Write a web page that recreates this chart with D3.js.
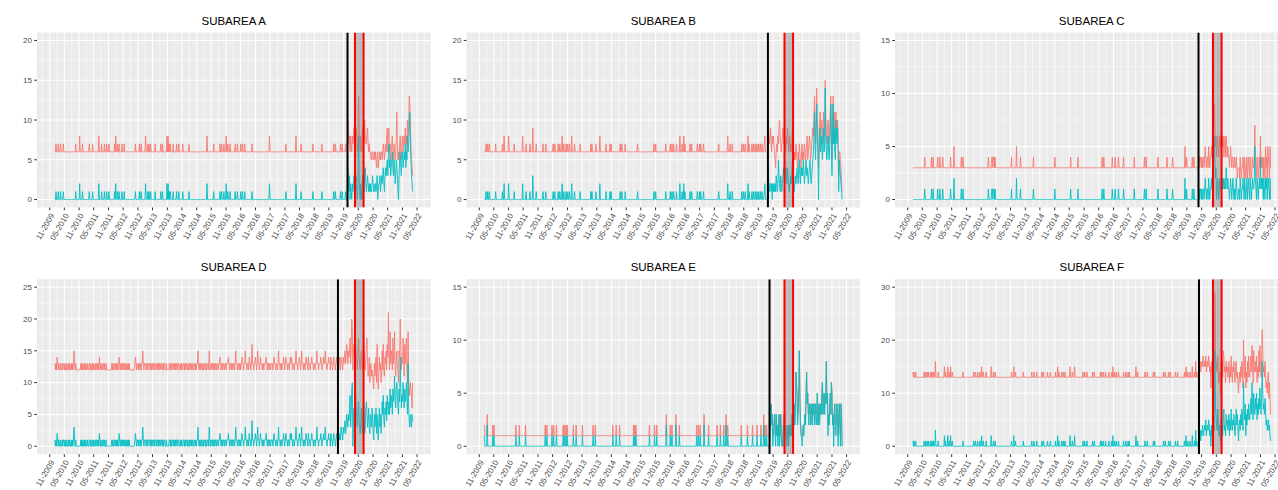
<!DOCTYPE html>
<html lang="en">
<head>
<meta charset="utf-8">
<title>Subareas</title>
<script src="https://cdnjs.cloudflare.com/ajax/libs/d3/7.8.5/d3.min.js"></script>
<style>
  body { margin: 0; background: #fff; }
  svg { display: block; font-family: "Liberation Sans", Arial, sans-serif; }
  .title { font-size: 11.5px; fill: #000; }
  .tick-label { font-size: 8px; fill: #4d4d4d; }
</style>
</head>
<body>
<div id="chart"></div>
<script>
// weekly counts, first week starting 2010-01-04
var firstWeek = "2010-01-04";
var nWeeks = 636;

var subareas = ["SUBAREA A", "SUBAREA B", "SUBAREA C", "SUBAREA D", "SUBAREA E", "SUBAREA F"];
var yMax = [20, 20, 15, 25, 15, 30];
var yTicks = [[0, 5, 10, 15, 20], [0, 5, 10, 15, 20], [0, 5, 10, 15], [0, 5, 10, 15, 20, 25], [0, 5, 10, 15], [0, 10, 20, 30]];

// black line (start of change) per subarea, and the shaded period
var changeDates = ["2019-12-19", "2019-08-28", "2019-09-23", "2019-08-22", "2019-09-17", "2019-09-29"];
var shadeStart = "2020-03-21";
var shadeEnd = "2020-07-06";

// weeks before the change: flat level + spikes ("week:value"), after: one char per week (base 36)
var preWeeks = [520, 504, 507, 503, 507, 508];
var tealBase = [0, 0, 0, 0, 0, 0];
var redBase = [6, 6, 3, 12, 1, 13];

var tealA_spikes = "2:1 6:1 10:1 15:1 37:1 44:2 49:1 61:1 67:1 78:2 83:1 88:1 92:1 96:1 106:1 108:2 111:1 114:1 119:1 123:1 143:1 150:1 153:1 161:2 165:1 167:1 170:1 178:1 188:1 191:1 199:2 201:2 203:1 205:1 210:1 216:1 220:1 227:1 238:1 270:2 282:1 293:1 296:1 300:1 304:2 307:1 311:1 320:1 324:1 330:1 333:1 337:1 350:1 381:2 410:1 428:2 437:1 458:1 474:1 495:1 498:1 507:1 510:1 516:1";
var redA_spikes = "2:7 6:7 10:7 15:7 37:7 44:8 49:7 61:7 67:7 78:8 83:7 88:7 92:7 96:7 106:7 108:8 111:7 114:7 119:7 123:7 143:7 150:7 153:7 161:8 165:7 167:7 170:7 178:7 188:7 191:7 199:8 201:8 203:7 205:7 210:7 216:7 220:7 227:7 238:7 270:8 282:7 293:7 296:7 300:7 304:8 307:7 311:7 320:7 324:7 330:7 333:7 337:7 350:7 381:8 410:7 428:8 437:7 458:7 474:7 495:7 498:7 507:7 510:7 516:7";
var tealA_post = "4213021021" + "2301231028" + "3102103021" + "3421232121" + "2112321122" + "1230122312" +
  "3234213434" + "5367453456" + "4354235431" + "0356435645" + "6574658679" + "b75321";
var redA_post = "a978687687" + "896789768d" + "9768769878" + "a877897676" + "6556655656" + "5456455656" +
  "6567656768" + "9689675678" + "6576568b75" + "6578657867" + "879687a89d" + "c97543";

var tealB_spikes = "3:1 6:1 9:1 20:1 32:1 35:2 43:2 53:1 68:2 74:1 81:1 86:3 92:1 104:1 109:1 122:1 125:1 131:1 134:1 138:2 141:1 145:1 148:1 151:1 155:2 160:1 170:1 189:1 191:1 198:1 205:2 216:1 223:1 225:1 241:1 244:1 250:1 272:1 301:1 304:1 322:1 330:1 333:1 336:1 341:1 347:2 351:1 354:2 356:1 365:1 368:1 378:1 382:1 384:1 389:1 416:1 432:2 436:1 440:1 457:1 460:1 463:1 468:2 470:1 475:1 478:1 481:1 484:1 487:1 490:1 493:1 497:1 498:2";
var redB_spikes = "3:7 6:7 9:7 20:7 32:7 35:8 43:8 53:7 68:8 74:7 81:7 86:9 92:7 104:7 109:7 122:7 125:7 131:7 134:7 138:8 141:7 145:7 148:7 151:7 155:8 160:7 170:7 189:7 191:7 198:7 205:8 216:7 223:7 225:7 241:7 244:7 250:7 272:7 301:7 304:7 322:7 330:7 333:7 336:7 341:7 347:8 351:7 354:8 356:7 365:7 368:7 378:7 382:7 384:7 389:7 416:7 432:8 436:7 440:7 457:7 460:7 463:7 468:8 470:7 475:7 478:7 481:7 484:7 487:7 490:7 493:7 497:7 498:8";
var tealB_post = "4212212021" + "2121321253" + "2132123432" + "3432432122" + "3245321232" + "3432453243" + "4354234534" +
  "3234532345" + "68b759c860" + "5896785796" + "7e86578657" + "9c638c7965" + "a879615432" + "10";
var redB_post = "a878976878" + "7654676879" + "a876789878" + "7687986786" + "7689865657" + "6546576546" + "7565765678" +
  "5678756789" + "8ad97bea84" + "7ab89a79b8" + "9fa879a879" + "bd85ad9b87" + "b98a736654" + "21";

var tealC_spikes = "21:1 33:1 36:1 44:1 48:1 53:1 67:1 73:2 86:1 89:1 134:1 140:1 141:1 143:1 144:1 146:1 175:1 184:2 191:1 214:1 252:1 280:1 293:1 336:1 339:1 354:1 359:1 365:1 374:1 393:1 411:1 414:1 435:1 451:1 461:1 483:2 486:1 496:1 499:1";
var redC_spikes = "21:4 33:4 36:4 44:4 48:4 53:4 67:4 73:5 86:4 89:4 134:4 140:4 141:4 143:4 144:4 146:4 175:4 184:5 191:4 214:4 252:4 280:4 293:4 336:4 339:4 354:4 359:4 365:4 374:4 393:4 411:4 414:4 435:4 451:4 461:4 483:5 486:4 496:4 499:4";
var tealC_post = "0101101011" + "0121011021" + "0112132564" + "2301210121" + "1121211213" + "2121101210" + "1210101210" +
  "0110210112" + "1021012012" + "1021012112" + "5210210121" + "4121202102" + "120221020";
var redC_post = "3434434344" + "3454344354" + "3445465797" + "5645654565" + "6665645646" + "5454434543" + "4433433432" +
  "3332432334" + "3243234234" + "3243234334" + "7432432343" + "6343424325" + "342543253";

var tealD_pre = "1010210100" + "1001011010" + "0100101001" + "0101310100" + "0000001010" +
  "1001010010" + "0110100101" + "0010110102" + "1010011010" + "0100000000" +
  "0101001101" + "0100210110" + "1011010010" + "1010000000" + "0012101101" +
  "1010113101" + "1101101110" + "1011011011" + "0110101101" + "1010110010" +
  "0001101011" + "0110101101" + "1001010011" + "0101101001" + "0110100110" +
  "1011310101" + "1001011010" + "0110310110" + "1101011011" + "0112101101" +
  "1011011121" + "0110110110" + "1311011011" + "0121101131" + "1011021101" +
  "4110112101" + "3110121101" + "1011121011" + "0110111012" + "1101101311" +
  "0110112101" + "2110110121" + "2101101131" + "1011210131" + "1011012110" +
  "2110112110" + "1101131101" + "1121011211" + "3110112110" + "2110121101" + "211";
var redD_pre = "dcdcedcdcc" + "dccdcddcdc" + "cdccdcdccd" + "cdcdfdcdcc" + "ccccccdcdc" +
  "dccdcdccdc" + "cddcdccdcd" + "ccdcddcdce" + "dcdccddcdc" + "cdcccccccc" +
  "cdcdccddcd" + "cdccedcddc" + "dcddcdccdc" + "dcdccccccc" + "ccdedcddcd" +
  "dcdcddfdcd" + "ddcddcdddc" + "dcddcddcdd" + "cddcdcddcd" + "dcdcddccdc" +
  "cccddcdcdd" + "cddcdcddcd" + "dccdcdccdd" + "cdcddcdccd" + "cddcdccddc" +
  "dcddfdcdcd" + "dccdcddcdc" + "cddcfdcddc" + "ddcdcddcdd" + "cddedcddcd" +
  "dcddcddded" + "cddcddcddc" + "dfddcddcdd" + "cdeddcddfd" + "dcddceddcd" +
  "gddcddedcd" + "fddcdeddcd" + "dcdddedcdd" + "cddcdddcde" + "ddcddcdfdd" +
  "cddcddedcd" + "eddcddcded" + "edcddcddfd" + "dcddedcdfd" + "dcddcdeddc" +
  "eddcddeddc" + "ddcddfddcd" + "ddedcddedd" + "fddcddeddc" + "eddcdeddcd" + "edd";
var tealD_post = "1212132213" + "2342354354" + "68359a0463" + "5864357432" + "4632574236" + "7534632543" + "6421534625" +
  "3146352475" + "8436574865" + "7596875978" + "b769a86597" + "e9687a8697" + "8a75d64354" + "354";
var redD_post = "dcedceddce" + "defdegfdfe" + "fhdfkicfgd" + "fgedcfhedc" + "efdcegfdce" + "ghdbceacdb" + "cba9dbceag" +
  "c9becdabfc" + "gcbedfcgel" + "fcidfechde" + "icbefdcafe" + "kgcedhfbgd" + "fhcaib98a9" + "86a";

var tealE_spikes = "0:1 5:2 15:1 17:1 56:1 62:1 73:1 108:1 111:1 120:1 123:1 128:1 140:1 142:1 145:1 147:1 158:1 163:1 174:1 193:1 197:1 228:1 234:1 240:1 265:1 267:1 269:1 293:1 302:1 306:1 323:2 330:1 333:1 340:2 346:1 377:1 380:1 383:1 390:2 398:1 413:1 419:1 425:1 429:2 432:1 456:1 467:1 476:1 484:1 491:1 496:2 498:1 501:1";
var redE_spikes = "0:2 5:3 15:2 17:2 56:2 62:2 73:2 108:2 111:2 120:2 123:2 128:2 140:2 142:2 145:2 147:2 158:2 163:2 174:2 193:2 197:2 228:2 234:2 240:2 265:2 267:2 269:2 293:2 302:2 306:2 323:3 330:2 333:2 340:3 346:2 377:2 380:2 383:2 390:3 398:2 413:2 419:2 425:2 429:3 432:2 456:2 467:2 476:2 484:2 491:2 496:3 498:2 501:2";
var tealE_post = "1242301231" + "0312013013" + "1001201121" + "0120121213" + "2134237652" + "3595211012" + "1232574532" +
  "4324324342" + "3423523423" + "4356345345" + "8451324536" + "5230342134" + "203420430";
var redE_post = "2243311232" + "1322113113" + "2101311221" + "1121122213" + "3234237653" + "3595221112" + "2232574533" +
  "4334324442" + "3433523433" + "4356345445" + "8452324536" + "5331342234" + "213421430";

var tealF_spikes = "0:1 2:1 5:1 20:1 23:1 26:1 28:1 32:1 34:1 37:1 40:3 45:1 56:2 58:1 62:2 65:1 67:2 70:1 89:1 108:1 111:1 115:1 119:1 122:2 125:1 130:1 139:2 143:1 146:1 175:1 179:2 182:1 196:1 211:1 215:1 220:1 229:1 232:1 239:1 244:1 253:1 257:2 259:1 264:1 267:1 270:1 279:2 283:1 287:2 302:1 305:1 309:1 319:1 322:1 333:1 335:1 338:1 342:1 348:1 353:1 355:2 358:1 361:1 365:1 374:1 378:1 382:1 384:1 396:2 399:1 412:1 416:1 427:1 429:1 445:1 448:1 454:1 457:1 466:1 470:1 482:1 485:2 488:1 492:1 496:2 500:1 502:3 504:1";
var redF_spikes = "0:14 2:14 5:14 20:14 23:14 26:14 28:14 32:14 34:14 37:14 40:16 45:14 56:15 58:14 62:15 65:14 67:15 70:14 89:14 108:14 111:14 115:14 119:14 122:15 125:14 130:14 139:15 143:14 146:14 175:14 179:15 182:14 196:14 211:14 215:14 220:14 229:14 232:14 239:14 244:14 253:14 257:15 259:14 264:14 267:14 270:14 279:15 283:14 287:15 302:14 305:14 309:14 319:14 322:14 333:14 335:14 338:14 342:14 348:14 353:14 355:15 358:14 361:14 365:14 374:14 378:14 382:14 384:14 396:15 399:14 412:14 416:14 427:14 429:14 445:14 448:14 454:14 457:14 466:14 470:14 482:14 485:15 488:14 492:14 496:15 500:14 502:16 504:14";
var tealF_post = "3231324323" + "4352343542" + "30423543i8" + "6437524315" + "3425734264" + "5346253743" + "5463257463" +
  "145364753c" + "7582647586" + "5796c85a76" + "97a58697b8" + "69ga786974" + "53453421";
var redF_post = "gfgefgfhgf" + "gfhefgfhge" + "fbgefhgfti" + "gfehfcedag" + "fgdihefcge" + "fdegcfdhec" + "fegdcfgdec" +
  "adecfdgebk" + "fdhbecgdhe" + "dfhejgcife" + "gehcfdiejf" + "dhmiefdgeb" + "cade9c96";

function fromChars(s) {
  return s.split("").map(function(c) { return parseInt(c, 36); });
}
function fromSpikes(n, base, s) {
  var a = [];
  for (var i = 0; i < n; i++) a.push(base);
  s.split(" ").forEach(function(t) {
    var p = t.split(":");
    a[+p[0]] = +p[1];
  });
  return a;
}

var teal = [
  fromSpikes(preWeeks[0], tealBase[0], tealA_spikes).concat(fromChars(tealA_post)),
  fromSpikes(preWeeks[1], tealBase[1], tealB_spikes).concat(fromChars(tealB_post)),
  fromSpikes(preWeeks[2], tealBase[2], tealC_spikes).concat(fromChars(tealC_post)),
  fromChars(tealD_pre).concat(fromChars(tealD_post)),
  fromSpikes(preWeeks[4], tealBase[4], tealE_spikes).concat(fromChars(tealE_post)),
  fromSpikes(preWeeks[5], tealBase[5], tealF_spikes).concat(fromChars(tealF_post))
];
var red = [
  fromSpikes(preWeeks[0], redBase[0], redA_spikes).concat(fromChars(redA_post)),
  fromSpikes(preWeeks[1], redBase[1], redB_spikes).concat(fromChars(redB_post)),
  fromSpikes(preWeeks[2], redBase[2], redC_spikes).concat(fromChars(redC_post)),
  fromChars(redD_pre).concat(fromChars(redD_post)),
  fromSpikes(preWeeks[4], redBase[4], redE_spikes).concat(fromChars(redE_post)),
  fromSpikes(preWeeks[5], redBase[5], redF_spikes).concat(fromChars(redF_post))
];

//layout
var width = 1278, height = 490;
var colOff = [0, 429.5, 858];
var rowOff = [0, 246.7];

var svg = d3.select("#chart").append("svg")
  .attr("width", width)
  .attr("height", height);

var parse = d3.utcParse("%Y-%m-%d");
var t0 = parse(firstWeek);
var dates = d3.range(nWeeks).map(function(i) { return d3.utcDay.offset(t0, 7 * i); });
var span = dates[nWeeks - 1] - dates[0];
var xDomain = [new Date(+dates[0] - 0.05 * span), new Date(+dates[nWeeks - 1] + 0.05 * span)];

var xTicks = d3.utcMonth.range(new Date(Date.UTC(2009, 10, 1)), new Date(Date.UTC(2022, 4, 2)), 6);
var xMinor = [];
for (var j = 0; j < xTicks.length; j++) {
  var a = +xTicks[j], b = j < xTicks.length - 1 ? +xTicks[j + 1] : a + (a - +xTicks[j - 1]);
  if (j == 0) xMinor.push(new Date(a - (+xTicks[1] - a) / 2));
  xMinor.push(new Date((a + b) / 2));
}
var fmt = d3.utcFormat("%m-%Y");

subareas.forEach(function(name, k) {
  var col = k % 3, row = Math.floor(k / 3);
  var L = colOff[col] + 37, R = colOff[col] + 430.5;
  var T = rowOff[row] + 32.5, B = rowOff[row] + 207.5;

  var x = d3.scaleUtc().domain(xDomain).range([L, R]);
  var ym = yMax[k];
  var y = d3.scaleLinear().domain([-0.05 * ym, 1.05 * ym]).range([B, T]);

  var g = svg.append("g");

  g.append("clipPath").attr("id", "clip" + k)
    .append("rect").attr("x", L).attr("y", T).attr("width", R - L).attr("height", B - T);

  g.append("rect")
    .attr("x", L).attr("y", T).attr("width", R - L).attr("height", B - T)
    .attr("fill", "#ebebeb");

  var grid = g.append("g").attr("clip-path", "url(#clip" + k + ")");

  //minor grid lines
  var yt = yTicks[k];
  var step = yt[1] - yt[0];
  var yMinor = yt.map(function(v) { return v + step / 2; }).filter(function(v) { return v < 1.05 * ym; });
  grid.selectAll(".ymin").data(yMinor).enter().append("line")
    .attr("x1", L).attr("x2", R)
    .attr("y1", function(d) { return y(d); }).attr("y2", function(d) { return y(d); })
    .attr("stroke", "#fff").attr("stroke-width", 0.5);
  grid.selectAll(".xmin").data(xMinor).enter().append("line")
    .attr("x1", function(d) { return x(d); }).attr("x2", function(d) { return x(d); })
    .attr("y1", T).attr("y2", B)
    .attr("stroke", "#fff").attr("stroke-width", 0.5);

  //major grid lines
  grid.selectAll(".ymaj").data(yt).enter().append("line")
    .attr("x1", L).attr("x2", R)
    .attr("y1", function(d) { return y(d); }).attr("y2", function(d) { return y(d); })
    .attr("stroke", "#fff").attr("stroke-width", 1);
  grid.selectAll(".xmaj").data(xTicks).enter().append("line")
    .attr("x1", function(d) { return x(d); }).attr("x2", function(d) { return x(d); })
    .attr("y1", T).attr("y2", B)
    .attr("stroke", "#fff").attr("stroke-width", 1);

  //series lines
  var line = d3.line()
    .x(function(d, i) { return x(dates[i]); })
    .y(function(d) { return y(d); });

  var plot = g.append("g").attr("clip-path", "url(#clip" + k + ")");
  plot.append("path")
    .attr("d", line(red[k]))
    .attr("fill", "none").attr("stroke", "#F8766D").attr("stroke-opacity", 0.85)
    .attr("stroke-width", 1).attr("stroke-linejoin", "round");
  plot.append("path")
    .attr("d", line(teal[k]))
    .attr("fill", "none").attr("stroke", "#00BFC4").attr("stroke-opacity", 0.9)
    .attr("stroke-width", 1).attr("stroke-linejoin", "round");

  //change line and shaded period
  var xc = x(parse(changeDates[k]));
  plot.append("line")
    .attr("x1", xc).attr("x2", xc).attr("y1", T).attr("y2", B)
    .attr("stroke", "#000").attr("stroke-width", 2);
  var xs = x(parse(shadeStart)), xe = x(parse(shadeEnd));
  plot.append("rect")
    .attr("x", xs).attr("y", T).attr("width", xe - xs).attr("height", B - T)
    .attr("fill", "#7f7f7f").attr("fill-opacity", 0.45);
  plot.selectAll(".shade-edge").data([xs, xe]).enter().append("line")
    .attr("x1", function(d) { return d; }).attr("x2", function(d) { return d; })
    .attr("y1", T).attr("y2", B)
    .attr("stroke", "#ff0000").attr("stroke-width", 2);

  //y axis
  g.selectAll(".ytick").data(yt).enter().append("line")
    .attr("x1", L - 2.8).attr("x2", L)
    .attr("y1", function(d) { return y(d); }).attr("y2", function(d) { return y(d); })
    .attr("stroke", "#333").attr("stroke-width", 1);
  g.selectAll(".ylab").data(yt).enter().append("text")
    .attr("class", "tick-label")
    .attr("x", L - 5).attr("y", function(d) { return y(d); })
    .attr("dy", "0.35em").attr("text-anchor", "end")
    .text(function(d) { return d; });

  //x axis
  g.selectAll(".xtick").data(xTicks).enter().append("line")
    .attr("x1", function(d) { return x(d); }).attr("x2", function(d) { return x(d); })
    .attr("y1", B).attr("y2", B + 2.8)
    .attr("stroke", "#333").attr("stroke-width", 1);
  g.selectAll(".xlab").data(xTicks).enter().append("text")
    .attr("class", "tick-label")
    .attr("text-anchor", "end")
    .attr("dy", "0.35em")
    .attr("transform", function(d) { return "translate(" + (x(d) + 2.5) + "," + (B + 6.5) + ") rotate(-60)"; })
    .text(function(d) { return fmt(d); });

  //title
  g.append("text")
    .attr("class", "title")
    .attr("x", (L + R) / 2).attr("y", T - 7.8)
    .attr("text-anchor", "middle")
    .text(name);
});
</script>
</body>
</html>
